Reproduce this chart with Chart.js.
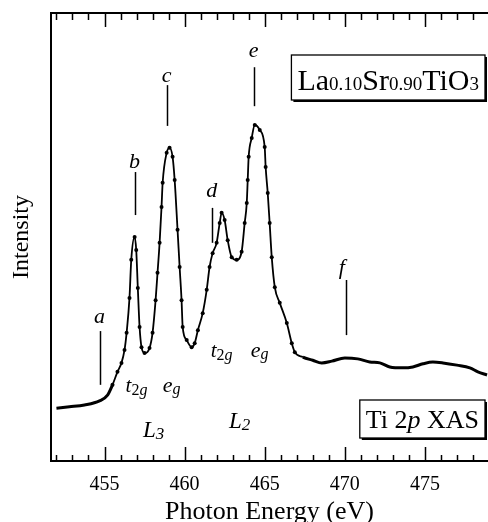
<!DOCTYPE html>
<html>
<head>
<meta charset="utf-8">
<script src="https://cdn.jsdelivr.net/npm/chart.js@4"></script>
<style>
html, body { margin: 0; padding: 0; background: white; }
canvas { display: block; }
</style>
</head>
<body>
<canvas id="myChart" width="488" height="522"></canvas>
<script>
const energy = [452.0, 452.81, 453.75, 454.69, 455.19, 455.5, 455.81, 456.06, 456.25, 456.38,
    456.56, 456.67, 456.88, 456.98, 457.08, 457.19, 457.31, 457.5, 457.81, 458.0,
    458.19, 458.31, 458.44, 458.56, 458.63, 458.88, 459.06, 459.25, 459.38, 459.56,
    459.69, 459.81, 459.88, 460.13, 460.44, 460.63, 460.83, 461.13, 461.38, 461.56,
    461.75, 462.0, 462.19, 462.31, 462.5, 462.69, 462.94, 463.25, 463.56, 463.75,
    463.88, 463.94, 464.0, 464.19, 464.38, 464.69, 465.0, 465.06, 465.19, 465.31,
    465.44, 465.63, 465.94, 466.38, 466.69, 466.88, 467.38, 468.0, 468.56, 469.19,
    470.0, 470.81, 471.56, 472.19, 472.81, 473.63, 474.25, 474.88, 475.5, 476.13,
    477.0, 477.81, 478.31, 478.88];
const intensity = [11.8, 12.1, 12.5, 13.4, 14.7, 17.0, 19.9, 21.9, 24.8, 28.6,
    36.4, 44.9, 50.0, 47.1, 38.6, 29.9, 25.4, 24.1, 25.2, 28.6,
    35.9, 42.0, 48.7, 56.7, 62.1, 68.8, 69.9, 67.9, 62.7, 51.6,
    43.3, 35.9, 29.9, 27.0, 25.4, 26.3, 29.2, 33.0, 38.2, 43.3,
    46.4, 48.7, 53.1, 55.4, 53.8, 49.3, 45.5, 44.9, 46.7, 53.1,
    57.6, 62.7, 67.9, 72.1, 75.0, 73.9, 70.1, 65.6, 59.8, 53.1,
    45.5, 38.8, 35.3, 30.8, 26.3, 24.3, 23.2, 22.5, 21.9, 22.3,
    23.0, 22.8, 22.1, 21.9, 21.0, 20.8, 21.0, 21.7, 22.1, 21.9,
    21.4, 20.8, 19.9, 19.2];
const tickLabels = [455, 460, 465, 470, 475];

// peak letters: [letter, energy, intensity of baseline]
const peakLetters = [["a", 454.69, 30.8], ["b", 456.88, 65.4], ["c", 458.88, 84.6],
    ["d", 461.69, 58.9], ["e", 464.31, 90.2], ["f", 469.81, 41.7]];
// marker lines: [energy, from, to]
const peakMarks = [[454.75, 29.0, 17.0], [456.88, 64.5, 54.9], [458.88, 83.9, 74.8],
    [461.69, 56.5, 48.7], [464.31, 87.9, 79.2], [470.06, 40.4, 28.1]];
// orbital labels: [main, sub, energy, intensity]
const orbitLabels = [["t", "2g", 457.0, 15.4], ["e", "g", 459.19, 15.4],
    ["t", "2g", 462.31, 23.2], ["e", "g", 464.69, 23.2],
    ["L", "3", 458.06, 5.4], ["L", "2", 463.44, 7.4]];

const serif = "'Liberation Serif', 'DejaVu Serif', serif";

function thick(e) {
    return e < 455.3 || e > 466.9;
}

function drawRuns(ctx, runs, x, y) {
    let total = 0;
    runs.forEach((r) => {
        ctx.font = r.f;
        r.w = ctx.measureText(r.t).width;
        total += r.w;
    });
    let px = x - total / 2;
    runs.forEach((r) => {
        ctx.font = r.f;
        ctx.fillText(r.t, px, y + (r.dy || 0));
        px += r.w;
    });
    return total;
}

function runsWidth(ctx, runs) {
    let total = 0;
    runs.forEach((r) => {
        ctx.font = r.f;
        total += ctx.measureText(r.t).width;
    });
    return total;
}

function drawBox(ctx, runs, right, top, height, baseline) {
    const w = runsWidth(ctx, runs) + 12;
    const left = right - w;
    ctx.fillStyle = "#000";
    ctx.fillRect(left + 2, top + 2, w, height);
    ctx.fillStyle = "#fff";
    ctx.fillRect(left, top, w, height);
    ctx.strokeStyle = "#000";
    ctx.lineWidth = 1.3;
    ctx.strokeRect(left, top, w, height);
    ctx.fillStyle = "#000";
    drawRuns(ctx, runs, left + w / 2, baseline);
}

const ticksInside = {
    id: "ticksInside",
    afterDraw(chart) {
        const { ctx, chartArea, scales } = chart;
        const x = scales.x;
        ctx.save();
        ctx.strokeStyle = "#000";
        ctx.lineWidth = 1.5;
        for (let v = Math.ceil(x.min); v <= x.max; v++) {
            const px = Math.round(x.getPixelForValue(v)) + 0.5;
            const major = v % 5 === 0;
            ctx.beginPath();
            ctx.moveTo(px, chartArea.bottom);
            ctx.lineTo(px, chartArea.bottom - (major ? 14 : 6));
            ctx.moveTo(px, chartArea.top);
            ctx.lineTo(px, chartArea.top + (major ? 14 : 7));
            ctx.stroke();
        }
        ctx.restore();
    }
};

const labelsPlugin = {
    id: "labelsPlugin",
    afterDatasetsDraw(chart) {
        const { ctx, chartArea, scales } = chart;
        const x = scales.x;
        const y = scales.y;
        ctx.save();
        ctx.fillStyle = "#000";
        ctx.strokeStyle = "#000";
        ctx.lineWidth = 1.5;
        ctx.textBaseline = "alphabetic";
        peakMarks.forEach((m) => {
            const px = Math.round(x.getPixelForValue(m[0])) + 0.5;
            ctx.beginPath();
            ctx.moveTo(px, y.getPixelForValue(m[1]));
            ctx.lineTo(px, y.getPixelForValue(m[2]));
            ctx.stroke();
        });
        peakLetters.forEach((p) => {
            drawRuns(ctx, [{ t: p[0], f: "italic 22px " + serif }],
                x.getPixelForValue(p[1]), y.getPixelForValue(p[2]));
        });
        orbitLabels.forEach((o) => {
            const big = o[0] === "L" ? 23 : (o[0] === "t" ? 21 : 22);
            const small = o[0] === "L" ? 17 : 16;
            const runs = [{ t: o[0], f: "italic " + big + "px " + serif }];
            if (o[1] === "2g") {
                runs.push({ t: "2", f: small + "px " + serif, dy: 3 });
                runs.push({ t: "g", f: "italic " + small + "px " + serif, dy: 3 });
            } else {
                runs.push({ t: o[1], f: "italic " + small + "px " + serif, dy: 2 });
            }
            drawRuns(ctx, runs, x.getPixelForValue(o[2]), y.getPixelForValue(o[3]));
        });
        const big = "30px " + serif;
        const sub = "19px " + serif;
        drawBox(ctx, [{ t: "La", f: big }, { t: "0.10", f: sub }, { t: "Sr", f: big },
            { t: "0.90", f: sub }, { t: "TiO", f: big }, { t: "3", f: sub }],
            chartArea.right - 3, chartArea.top + 42, 45, chartArea.top + 77);
        drawBox(ctx, [{ t: "Ti 2", f: "26px " + serif }, { t: "p", f: "italic 26px " + serif },
            { t: " XAS", f: "26px " + serif }],
            chartArea.right - 3, chartArea.bottom - 61, 38, chartArea.bottom - 33);
        ctx.restore();
    }
};

function loadGraph() {
    const points = energy.map((e, i) => ({ x: e, y: intensity[i] }));
    const xMin = 451.66;
    const xMax = 478.94;
    const config = {
        type: "line",
        data: {
            datasets: [
                {
                    label: "Ti 2p XAS",
                    data: points,
                    borderColor: "#000",
                    backgroundColor: "#000",
                    borderWidth: 1.8,
                    cubicInterpolationMode: "monotone",
                    pointRadius: (c) => (thick(energy[c.dataIndex]) ? 0 : 2),
                    pointBorderWidth: 0,
                    segment: {
                        borderWidth: (c) => (thick(c.p0.parsed.x) ? 3 : 1.8)
                    }
                }
            ]
        },
        options: {
            responsive: false,
            animation: false,
            layout: { padding: 0 },
            plugins: {
                legend: { display: false },
                tooltip: { enabled: false }
            },
            scales: {
                x: {
                    type: "linear",
                    min: xMin,
                    max: xMax,
                    afterBuildTicks: (scale) => {
                        scale.ticks = tickLabels.map((v) => ({ value: v }));
                    },
                    afterFit: (scale) => {
                        scale.height = 61;
                    },
                    grid: { display: false },
                    border: { display: true, color: "#000", width: 2 },
                    ticks: {
                        color: "#000",
                        padding: 4,
                        maxRotation: 0,
                        font: { family: serif, size: 20 }
                    },
                    title: {
                        display: true,
                        text: "Photon Energy (eV)",
                        color: "#000",
                        font: { family: serif, size: 26, lineHeight: 1 },
                        padding: { top: 0, bottom: -3 }
                    }
                },
                x2: {
                    type: "linear",
                    position: "top",
                    min: xMin,
                    max: xMax,
                    afterFit: (scale) => {
                        scale.height = 13;
                    },
                    grid: { display: false },
                    border: { display: true, color: "#000", width: 2 },
                    ticks: { display: false }
                },
                y: {
                    min: 0,
                    max: 100,
                    afterFit: (scale) => {
                        scale.width = 51;
                    },
                    grid: { display: false },
                    border: { display: true, color: "#000", width: 2 },
                    ticks: { display: false },
                    title: {
                        display: true,
                        text: "Intensity",
                        color: "#000",
                        font: { family: serif, size: 24, lineHeight: 1 },
                        padding: { top: 10, bottom: 0 }
                    }
                }
            }
        },
        plugins: [ticksInside, labelsPlugin]
    };
    new Chart(document.getElementById("myChart"), config);
}

loadGraph();
</script>
</body>
</html>
